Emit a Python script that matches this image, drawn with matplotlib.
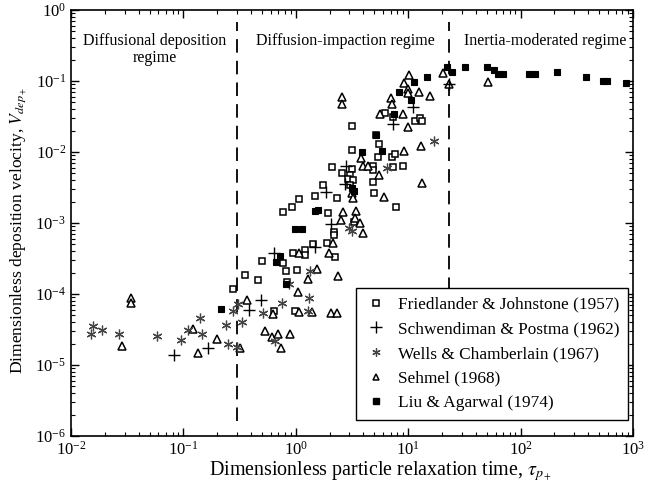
import matplotlib
matplotlib.use("Agg")
import matplotlib.pyplot as plt
from matplotlib.lines import Line2D

plt.rcParams['font.family'] = ['Liberation Serif', 'DejaVu Serif']
plt.rcParams['mathtext.fontset'] = 'stix'

# Friedlander & Johnstone (1957) - open squares
fj_tau = [0.2735, 0.350, 0.461, 0.504, 0.774, 0.644, 0.984, 0.830, 0.813, 1.031,
          0.938, 1.21, 1.21, 1.408, 1.906, 2.19, 2.19, 2.23, 0.762, 0.919,
          1.074, 1.48, 1.757, 2.34, 1.946, 2.09, 3.14, 2.56, 3.04, 2.895,
          3.25, 3.04, 3.30, 3.14, 5.17, 5.53, 3.14, 5.42, 7.22, 7.63,
          4.89, 4.89, 7.28, 8.94, 4.89, 4.96, 7.79, 6.22, 7.37, 11.5,
          12.7, 13.2]
fj_v = [1.18e-4, 1.88e-4, 1.60e-4, 2.96e-4, 2.76e-4, 5.82e-5, 5.82e-5, 1.49e-4, 2.11e-4, 2.18e-4,
        3.84e-4, 4.17e-4, 3.54e-4, 5.14e-4, 5.18e-4, 7.47e-4, 6.67e-4, 3.35e-4, 1.41e-3, 1.68e-3,
        2.18e-3, 2.40e-3, 3.38e-3, 2.27e-3, 1.38e-3, 6.09e-3, 5.76e-3, 5.11e-3, 4.74e-3, 4.12e-3,
        4.03e-3, 3.43e-3, 1.03e-3, 2.36e-2, 1.74e-2, 1.30e-2, 1.07e-2, 8.59e-3, 8.42e-3, 9.37e-3,
        6.41e-3, 5.63e-3, 6.21e-3, 6.41e-3, 3.82e-3, 2.67e-3, 1.66e-3, 3.58e-2, 3.14e-2, 2.76e-2,
        2.98e-2, 2.76e-2]

# Schwendiman & Postma (1962) - plus
sp_tau = [0.0825, 0.1644, 0.384, 0.488, 0.646, 1.48, 2.06, 2.80, 1.857, 2.74, 7.28, 11.1, 23.2]
sp_v = [1.38e-5, 1.75e-5, 5.86e-5, 8.23e-5, 3.78e-4, 4.55e-4, 9.68e-4, 6.41e-3, 2.69e-3, 3.54e-3,
        2.52e-2, 4.30e-2, 9.08e-2]

# Wells & Chamberlain (1967) - asterisks
wc_tau = [0.015, 0.0156, 0.0190, 0.0269, 0.0579, 0.0952, 0.1106, 0.1406, 0.147, 0.239,
          0.247, 0.278, 0.308, 0.329, 0.30, 0.653, 0.759, 0.507, 0.870, 1.337,
          1.31, 1.276, 2.97, 3.16, 6.48, 16.8]
wc_v = [2.73e-5, 3.54e-5, 3.11e-5, 2.73e-5, 2.56e-5, 2.25e-5, 3.11e-5, 4.55e-5, 2.73e-5, 3.66e-5,
        1.98e-5, 5.76e-5, 7.23e-5, 3.97e-5, 1.82e-5, 2.21e-5, 7.54e-5, 5.45e-5, 1.38e-4, 2.11e-4,
        8.87e-5, 5.82e-5, 8.42e-4, 7.84e-4, 5.95e-3, 1.43e-2]

# Sehmel (1968) - open triangles
se_tau = [0.0342, 0.0342, 0.0284, 0.1225, 0.1358, 0.199, 0.366, 0.322, 0.532, 0.610,
          0.698, 0.887, 0.734, 0.623, 1.074, 1.385, 2.04, 2.31, 1.04, 1.29,
          1.544, 2.36, 1.074, 2.16, 1.99, 2.65, 2.51, 3.43, 3.36, 3.72,
          3.99, 3.14, 3.25, 2.56, 2.56, 3.83, 3.99, 4.42, 5.53, 6.13,
          9.18, 13.0, 13.2, 5.61, 9.04, 10.06, 7.03, 7.13, 9.18, 10.2,
          9.96, 9.96, 12.5, 15.6, 20.3, 23.2, 51.6]
se_v = [8.79e-5, 7.35e-5, 1.87e-5, 3.18e-5, 1.48e-5, 2.36e-5, 8.15e-5, 1.75e-5, 3.04e-5, 2.45e-5,
        2.71e-5, 2.73e-5, 1.75e-5, 5.18e-5, 5.63e-5, 5.52e-5, 5.35e-5, 5.45e-5, 1.08e-4, 1.63e-4,
        2.23e-4, 1.79e-4, 3.84e-4, 5.18e-4, 3.78e-4, 1.42e-3, 1.09e-3, 1.47e-3, 1.19e-3, 9.9e-4,
        7.16e-4, 2.67e-3, 2.23e-3, 5.95e-2, 4.74e-2, 8.10e-3, 6.29e-3, 6.25e-3, 4.67e-3, 2.30e-3,
        1.03e-2, 1.23e-2, 3.66e-3, 3.43e-2, 3.43e-2, 2.25e-2, 5.67e-2, 4.82e-2, 9.37e-2, 0.1234,
        7.64e-2, 6.71e-2, 6.93e-2, 6.21e-2, 0.131, 9.22e-2, 9.59e-2]

# Liu & Agarwal (1974) - filled squares
la_tau = [0.214, 0.723, 0.667, 0.813, 0.984, 1.128, 1.48, 1.585, 3.14, 3.30,
          3.88, 5.81, 5.17, 7.40, 8.28, 10.6, 11.3, 14.6, 22.0, 24.4,
          32.0, 49.9, 58.0, 63.3, 69.3, 119.5, 134, 212, 380, 544,
          583, 861]
la_v = [6.09e-5, 3.43e-4, 2.82e-4, 1.38e-4, 8.23e-4, 8.23e-4, 1.48e-3, 1.52e-3, 3.08e-3, 2.85e-3,
        1.0e-2, 1.03e-2, 1.74e-2, 3.38e-2, 6.93e-2, 5.40e-2, 9.78e-2, 0.115, 0.156, 0.135,
        0.156, 0.156, 0.143, 0.1255, 0.1255, 0.124, 0.124, 0.134, 0.115, 0.1,
        0.1, 0.0928]

regime_bounds = [0.3, 23]
regime_labels = ["Diffusional deposition\nregime", "Diffusion-impaction regime", "Inertia-moderated regime"]
regime_x = [0.0558, 2.74, 165]
legend_labels = ["Friedlander & Johnstone (1957)", "Schwendiman & Postma (1962)",
                 "Wells & Chamberlain (1967)", "Sehmel (1968)", "Liu & Agarwal (1974)"]

fig = plt.figure(figsize=(6.48, 4.88), dpi=100)
ax = fig.add_axes([71/648, 1-436/488, 562/648, 426/488])
ax.set_xscale('log')
ax.set_yscale('log')
ax.set_xlim(1e-2, 1e3)
ax.set_ylim(1e-6, 1)

ms = 5
ax.plot(fj_tau, fj_v, ls='none', marker='s', ms=ms, mfc='white', mec='black', mew=1.1, zorder=3)
ax.plot(se_tau, se_v, ls='none', marker='^', ms=ms+0.5, mfc='white', mec='black', mew=1.1, zorder=3)
ax.plot(sp_tau, sp_v, ls='none', marker='+', ms=8, mec='black', mew=1.0, zorder=4)
ax.plot(wc_tau, wc_v, ls='none', marker=(6, 2, 0), ms=7, mec='#444444', mew=0.9, zorder=4)
ax.plot(la_tau, la_v, ls='none', marker='s', ms=ms, mfc='black', mec='black', mew=0.8, zorder=4)

for b in regime_bounds:
    ax.axvline(b, ymin=0.035, ymax=0.972, color='black', lw=1.3, dashes=(7.5, 4.5), zorder=1)

ax.text(regime_x[0], 0.47, regime_labels[0], ha='center', va='top', fontsize=11.5, linespacing=1.05)
ax.text(regime_x[1], 0.47, regime_labels[1], ha='center', va='top', fontsize=11.5)
ax.text(regime_x[2], 0.47, regime_labels[2], ha='center', va='top', fontsize=11.5)

ax.tick_params(which='both', direction='in', top=True, right=True, labelsize=12)
ax.tick_params(which='major', length=6, width=1)
ax.tick_params(which='minor', length=3, width=0.8)
for s in ax.spines.values():
    s.set_linewidth(1.2)

ax.set_xlabel(r"Dimensionless particle relaxation time, $\tau_{p_+}$", fontsize=14.4)
ax.set_ylabel(r"Dimensionless deposition velocity, $V_{dep_+}$", fontsize=12.6)
ax.xaxis.set_label_coords((381-71)/562, -(459-436)/426)
ax.yaxis.set_label_coords(-(71-28)/562, (436-230)/426)

handles = [
    Line2D([], [], ls='none', marker='s', ms=4, mfc='white', mec='black', mew=1.1),
    Line2D([], [], ls='none', marker='+', ms=8, mec='black', mew=1.0),
    Line2D([], [], ls='none', marker=(6, 2, 0), ms=6, mec='#444444', mew=0.9),
    Line2D([], [], ls='none', marker='^', ms=4.5, mfc='white', mec='black', mew=1.1),
    Line2D([], [], ls='none', marker='s', ms=4, mfc='black', mec='black'),
]
leg = ax.legend(handles, legend_labels, loc='lower right', bbox_to_anchor=(0.991, 0.0376),
                borderaxespad=0, fontsize=12.4, frameon=True, fancybox=False, edgecolor='black',
                framealpha=1, handletextpad=0.6, labelspacing=0.5, borderpad=0.5, handlelength=1.3)
leg.get_frame().set_linewidth(1.0)
leg.set_zorder(10)

fig.savefig("out.png", dpi=100)
